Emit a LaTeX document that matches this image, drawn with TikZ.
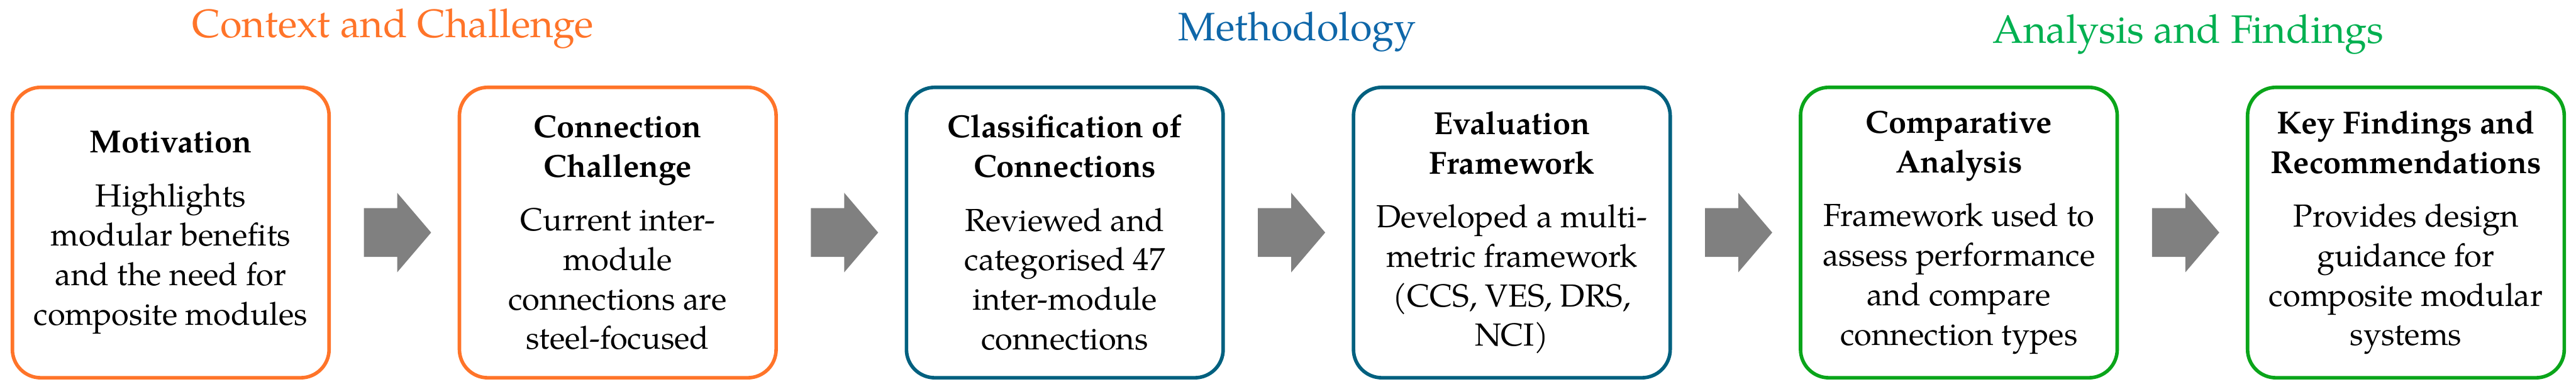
\documentclass[tikz,border=0pt]{standalone}
\usepackage{fontspec}
\setmainfont{TeX Gyre Pagella}
\usetikzlibrary{shapes.arrows, positioning}
\definecolor{ctxorange}{HTML}{FF7429}
\definecolor{methblue}{HTML}{00607F}
\definecolor{methtitle}{HTML}{0F67A9}
\definecolor{findgreen}{HTML}{0AA51A}
\definecolor{findtitle}{HTML}{00B050}

\begin{document}
\begin{tikzpicture}[
    stage/.style={draw, line width=1.5pt, rounded corners=12pt, minimum width=134.25pt, minimum height=123pt, align=center, inner sep=0pt, outer sep=0pt, font=\fontsize{13.5}{16.75}\selectfont},
    flow/.style={single arrow, fill=gray, draw=none, minimum height=28.5pt, inner xsep=0pt, inner ysep=10.125pt, single arrow head extend=6.5pt, single arrow tip angle=99, outer sep=0pt},
    phase/.style={anchor=base, font=\fontsize{16.8}{20}\selectfont}
]
\useasboundingbox (0,0) rectangle (1092pt,-164.75pt);

\node[stage, draw=ctxorange] (motiv) at (72.375pt,-98.5pt) {\textbf{Motivation}\\[6pt]Highlights\\modular benefits\\and the need for\\composite modules};
\node[flow, right=14.75pt of motiv] (a1) {};
\node[stage, draw=ctxorange, right=12pt of a1] (chal) {\textbf{Connection}\\\textbf{Challenge}\\[6pt]Current inter-\\module\\connections are\\steel-focused};
\node[flow, right=14.75pt of chal] (a2) {};
\node[stage, draw=methblue, right=12pt of a2] (classif) {\textbf{Classification of}\\\textbf{Connections}\\[6pt]Reviewed and\\categorised 47\\inter-module\\connections};
\node[flow, right=14.75pt of classif] (a3) {};
\node[stage, draw=methblue, right=12pt of a3] (evalfw) {\textbf{Evaluation}\\\textbf{Framework}\\[6pt]Developed a multi-\\metric framework\\(CCS, VES, DRS,\\NCI)};
\node[flow, right=14.75pt of evalfw] (a4) {};
\node[stage, draw=findgreen, right=12pt of a4] (compar) {\textbf{Comparative}\\\textbf{Analysis}\\[6pt]Framework used to\\assess performance\\and compare\\connection types};
\node[flow, right=14.75pt of compar] (a5) {};
\node[stage, draw=findgreen, right=12pt of a5] (findings) {\textbf{Key Findings and}\\\textbf{Recommendations}\\[6pt]Provides design\\guidance for\\composite modular\\systems};

% phase titles over the arrows
\node[phase, text=ctxorange] (ctxtitle) at ([xshift=2.5pt, yshift=82.5pt]a1.center) {Context and Challenge};
\node[phase, text=methtitle] (methtitle) at ([xshift=6.75pt, yshift=81.25pt]a3.center) {Methodology};
\node[phase, text=findtitle] (findtitle) at ([xshift=5.5pt, yshift=80.25pt]a5.center) {Analysis and Findings};

\end{tikzpicture}
\end{document}
